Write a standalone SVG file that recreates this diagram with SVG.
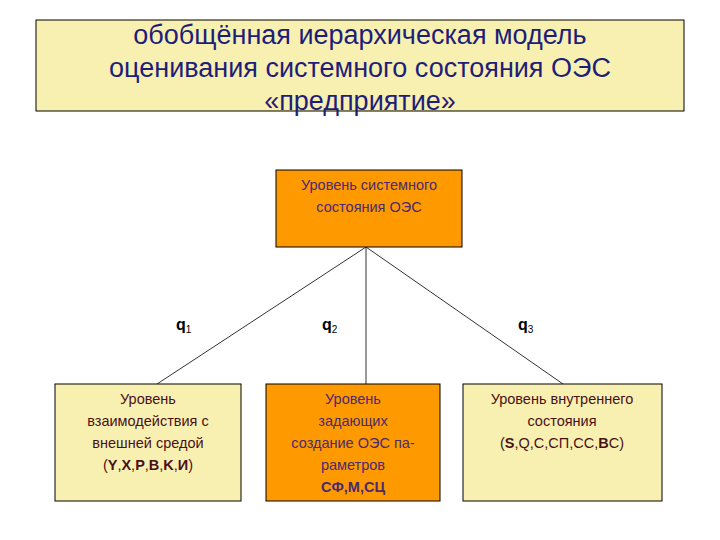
<svg xmlns="http://www.w3.org/2000/svg" width="720" height="540" viewBox="0 0 720 540">
<style>
text{font-family:"Liberation Sans",Arial,sans-serif}
.t{font-size:27px;fill:#1e1e7a;text-anchor:middle}
.b{font-size:14.5px;fill:#4a1018;text-anchor:middle}
.m{fill:#4a2a70}
.q{font-size:16px;fill:#000;font-weight:bold}
.s{font-size:10px;font-weight:normal}
.k{stroke:#000;stroke-width:1}
</style>
<rect width="720" height="540" fill="#fff"/>
<g id="title"><rect class="k" x="36" y="20" width="648" height="91" fill="#f8f0b0"/>
<text class="t" x="360" y="44">обобщённая иерархическая модель</text>
<text class="t" x="360" y="77">оценивания системного состояния ОЭС</text>
<text class="t" x="360" y="110">«предприятие»</text></g>
<g id="connectors" stroke="#333" stroke-width="1" fill="none">
<line x1="366" y1="247" x2="157" y2="384"/>
<line x1="366" y1="247" x2="366" y2="384"/>
<line x1="366" y1="247" x2="563" y2="384"/>
</g>
<g id="top"><rect class="k" x="276" y="170" width="186" height="77" fill="#ff9900"/>
<text class="b m" x="369" y="190">Уровень системного</text>
<text class="b m" x="369" y="212">состояния  ОЭС</text></g>
<g id="labels">
<text class="q" x="176" y="330">q<tspan class="s" dy="3">1</tspan></text>
<text class="q" x="322" y="330">q<tspan class="s" dy="3">2</tspan></text>
<text class="q" x="518" y="330">q<tspan class="s" dy="3">3</tspan></text>
</g>
<g id="left"><rect class="k" x="55" y="384" width="186" height="117" fill="#f8f0b0"/>
<text class="b" x="148" y="404">Уровень</text>
<text class="b" x="148" y="426">взаимодействия с</text>
<text class="b" x="148" y="448">внешней средой</text>
<text class="b" x="148" y="470">(<tspan font-weight="bold">Y</tspan>,<tspan font-weight="bold">X</tspan>,<tspan font-weight="bold">P</tspan>,<tspan font-weight="bold">B</tspan>,<tspan font-weight="bold">K</tspan>,<tspan font-weight="bold">И</tspan>)</text></g>
<g id="mid"><rect class="k" x="266" y="384" width="174" height="117" fill="#ff9900"/>
<text class="b m" x="353" y="404">Уровень</text>
<text class="b m" x="353" y="426">задающих</text>
<text class="b m" x="353" y="448">создание ОЭС па-</text>
<text class="b m" x="353" y="470">раметров</text>
<text class="b m" x="353" y="492" font-weight="bold">СФ,М,СЦ</text></g>
<g id="right"><rect class="k" x="463" y="384" width="199" height="117" fill="#f8f0b0"/>
<text class="b" x="562" y="404">Уровень внутреннего</text>
<text class="b" x="562" y="426">состояния</text>
<text class="b" x="562" y="448">(<tspan font-weight="bold">S</tspan>,Q,C,СП,CC,<tspan font-weight="bold">B</tspan>C)</text></g>
</svg>
